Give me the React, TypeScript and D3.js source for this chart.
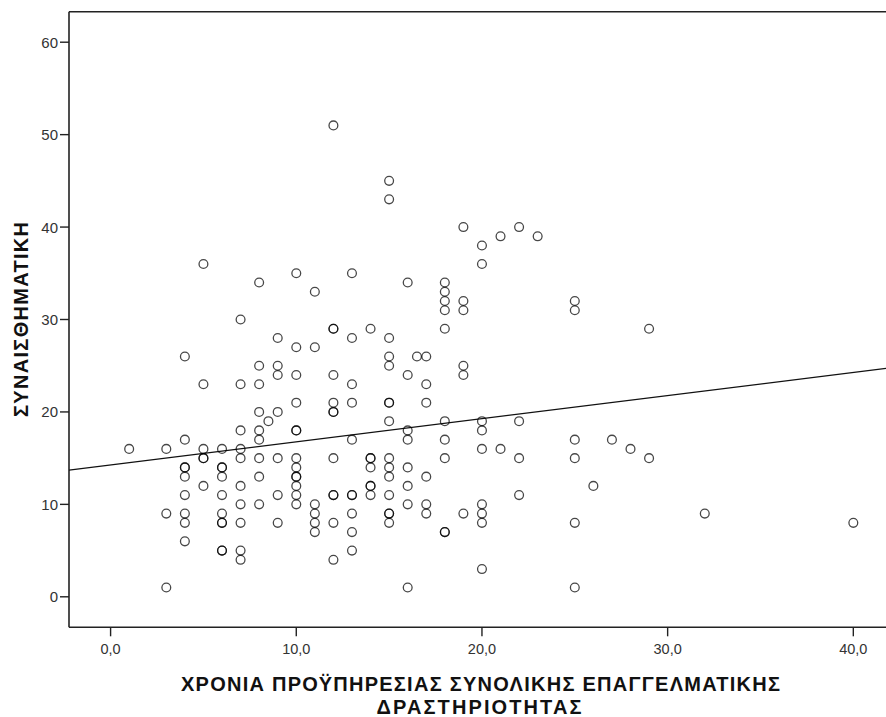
import React from "react";
import * as d3 from "d3";

// Years of total professional experience (x) and emotional score (y), one entry per respondent
const years: number[] = [
  12, 5, 8, 10, 11, 13, 7, 9, 10, 11, 12, 12, 13, 15, 15, 19, 20, 20, 21, 22, 23, 16, 18, 18, 18, 18, 19, 19, 25, 25, 14, 15, 18, 29,
  4, 8, 9, 9, 10, 12, 5, 7, 8, 10, 12, 12, 12, 8, 9, 8.5, 7, 8, 8, 10, 10, 4, 1, 3, 5, 5, 5, 6, 7, 7, 8, 9, 10, 10, 10, 10, 10, 10, 10, 12,
  4, 4, 4, 6, 6, 6, 5, 7, 8, 4, 6, 7, 8, 9, 11, 11, 11, 11, 12, 12, 3, 4, 4, 6, 6, 6, 7, 9, 12, 4, 6, 6, 7, 7, 12, 3,
  15, 15, 16.5, 17, 19, 19, 13, 16, 17, 13, 15, 15, 17, 15, 16, 16, 18, 20, 20, 22, 13, 18, 20, 21, 25, 25, 22, 18, 14, 14, 14, 15, 15, 15,
  16, 17, 14, 14, 14, 15, 16, 13, 13, 22, 16, 17, 17, 13, 15, 15, 15, 19, 20, 20, 20, 25, 13, 18, 18, 13, 20, 16, 25,
  27, 28, 29, 26, 32, 40,
];
const scores: number[] = [
  51, 36, 34, 35, 33, 35, 30, 28, 27, 27, 29, 29, 28, 45, 43, 40, 38, 36, 39, 40, 39, 34, 34, 33, 32, 31, 32, 31, 32, 31, 29, 28, 29, 29,
  26, 25, 25, 24, 24, 24, 23, 23, 23, 21, 21, 20, 20, 20, 20, 19, 18, 18, 17, 18, 18, 17, 16, 16, 16, 15, 15, 16, 16, 15, 15, 15, 15, 14, 13, 13, 12, 11, 10, 15,
  14, 14, 13, 14, 14, 13, 12, 12, 13, 11, 11, 10, 10, 11, 10, 9, 8, 7, 11, 11, 9, 9, 8, 9, 8, 8, 8, 8, 8, 6, 5, 5, 5, 4, 4, 1,
  26, 25, 26, 26, 25, 24, 23, 24, 23, 21, 21, 21, 21, 19, 18, 17, 19, 19, 18, 19, 17, 17, 16, 16, 17, 15, 15, 15, 15, 15, 14, 15, 14, 13,
  14, 13, 12, 12, 11, 11, 12, 11, 11, 11, 10, 10, 9, 9, 9, 9, 8, 9, 10, 9, 8, 8, 7, 7, 7, 5, 3, 1, 1,
  17, 16, 15, 12, 9, 8,
];

// Fit line
const fitIntercept = 14.27;
const fitSlope = 0.25;

const xTicks: number[] = [0, 10, 20, 30, 40];
const yTicks: number[] = [0, 10, 20, 30, 40, 50, 60];

const xTitleLines: string[] = ["ΧΡΟΝΙΑ ΠΡΟΫΠΗΡΕΣΙΑΣ ΣΥΝΟΛΙΚΗΣ ΕΠΑΓΓΕΛΜΑΤΙΚΗΣ", "ΔΡΑΣΤΗΡΙΟΤΗΤΑΣ"];
const yTitle = "ΣΥΝΑΙΣΘΗΜΑΤΙΚΗ";

export default function App() {
  const W = 886;
  const H = 717;
  const left = 69;
  const right = 886;
  const top = 11.7;
  const bottom = 627.3;

  const x = d3.scaleLinear().domain([-2.24, 41.76]).range([left, right]);
  const y = d3.scaleLinear().domain([-3.3, 63.3]).range([bottom, top]);

  const fmtX = (v: number) => d3.format(".1f")(v).replace(".", ",");
  const fd = x.domain();
  const lineGen = d3
    .line<number>()
    .x((v) => x(v))
    .y((v) => y(fitIntercept + fitSlope * v));

  const font = "'Liberation Sans', Arial, sans-serif";
  const titleFont = "'Liberation Sans', Arial, sans-serif";

  return (
    <svg
      width={W}
      height={H}
      style={{ position: "absolute", left: 0, top: 0, background: "#fff" }}
      fontFamily={font}
    >
      <rect x={0} y={0} width={W} height={H} fill="#fff" />
      <defs>
        <clipPath id="plotclip">
          <rect x={left} y={top} width={right - left} height={bottom - top} />
        </clipPath>
      </defs>
      {/* frame */}
      <line x1={left} x2={right} y1={top} y2={top} stroke="#222" strokeWidth={1.4} />
      <line x1={left} x2={left} y1={top} y2={bottom} stroke="#222" strokeWidth={1.6} />
      <line x1={left} x2={right} y1={bottom} y2={bottom} stroke="#222" strokeWidth={1.6} />

      {/* y ticks */}
      {yTicks.map((t) => (
        <g key={"y" + t}>
          <line x1={left - 9} x2={left} y1={y(t)} y2={y(t)} stroke="#222" strokeWidth={1.4} />
          <text x={left - 11} y={y(t) + 5.5} textAnchor="end" fontSize={15} fill="#333">
            {t}
          </text>
        </g>
      ))}
      {/* x ticks */}
      {xTicks.map((t) => (
        <g key={"x" + t}>
          <line x1={x(t)} x2={x(t)} y1={bottom} y2={bottom + 9} stroke="#222" strokeWidth={1.4} />
          <text x={x(t)} y={bottom + 27} textAnchor="middle" fontSize={14.5} fill="#333">
            {fmtX(t)}
          </text>
        </g>
      ))}

      <g clipPath="url(#plotclip)">
        <path d={lineGen(fd) || ""} fill="none" stroke="#111" strokeWidth={1.3} />
        {years.map((v, i) => (
          <circle
            key={i}
            cx={x(v)}
            cy={y(scores[i])}
            r={4.4}
            fill="none"
            stroke="#000"
            strokeOpacity={0.72}
            strokeWidth={1.3}
          />
        ))}
      </g>

      {/* axis titles */}
      <text
        transform={`translate(27.5,319.5) rotate(-90)`}
        textAnchor="middle"
        fontSize={20}
        fontWeight="bold"
        fill="#111"
        fontFamily={titleFont}
        textLength={195}
      >
        {yTitle}
      </text>
      <text
        x={480.5}
        y={690.5}
        textAnchor="middle"
        fontSize={20}
        fontWeight="bold"
        fill="#111"
        fontFamily={titleFont}
        textLength={599}
      >
        {xTitleLines[0]}
      </text>
      <text
        x={479}
        y={713.5}
        textAnchor="middle"
        fontSize={20}
        fontWeight="bold"
        fill="#111"
        fontFamily={titleFont}
        textLength={205}
      >
        {xTitleLines[1]}
      </text>
    </svg>
  );
}
